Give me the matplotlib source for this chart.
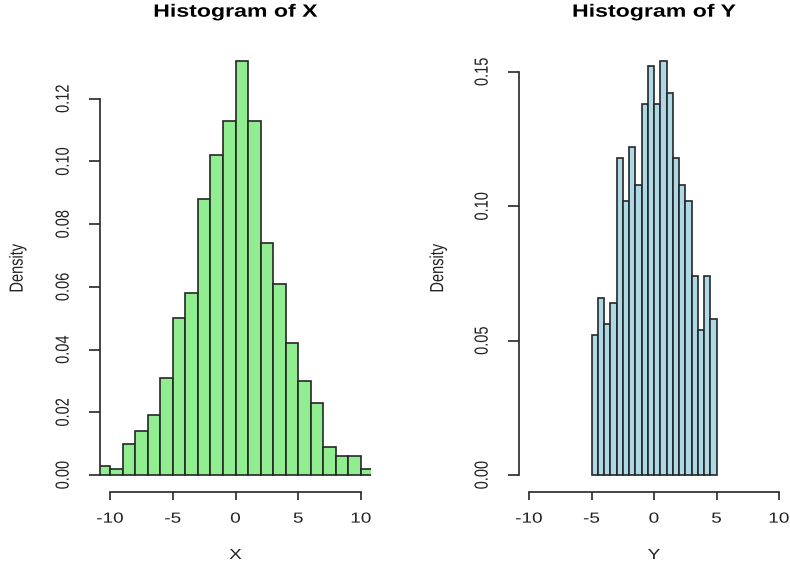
import numpy as np
import matplotlib
matplotlib.use("Agg")
import matplotlib.pyplot as plt
from matplotlib.patheffects import AbstractPathEffect
from matplotlib.transforms import Affine2D

plt.rcParams["font.family"] = ["Liberation Sans", "DejaVu Sans"]

# Histogram of X: unit-width bins from -11 to 11 (density scale)
x_edges = np.arange(-11, 12, 1.0)
x_density = [0.003, 0.002, 0.010, 0.014, 0.019, 0.031, 0.050, 0.058, 0.088, 0.102, 0.113,
             0.132, 0.113, 0.074, 0.061, 0.042, 0.030, 0.023, 0.009, 0.006, 0.006, 0.002]

# Histogram of Y: half-width bins from -5 to 5 (density scale)
y_edges = np.arange(-5, 5.01, 0.5)
y_density = [0.052, 0.066, 0.056, 0.064, 0.118, 0.102, 0.122, 0.108, 0.138, 0.152,
             0.138, 0.154, 0.142, 0.118, 0.108, 0.102, 0.074, 0.054, 0.074, 0.058]

x_ticks = [-10, -5, 0, 5, 10]
x_yticks = [0.00, 0.02, 0.04, 0.06, 0.08, 0.10, 0.12]
y_yticks = [0.00, 0.05, 0.10, 0.15]


class WideText(AbstractPathEffect):
    """Widen glyphs horizontally (in display space) about their own centre."""

    def __init__(self, sx=1.3):
        super().__init__()
        self.sx = sx

    def draw_path(self, renderer, gc, tpath, affine, rgbFace=None):
        ext = tpath.get_extents(affine)
        cx = 0.5 * (ext.x0 + ext.x1)
        t = affine + Affine2D().translate(-cx, 0).scale(self.sx, 1).translate(cx, 0)
        renderer.draw_path(gc, tpath, t, rgbFace)


wide = [WideText(1.3)]

W, H = 790, 567
fig = plt.figure(figsize=(W / 100, H / 100), dpi=100)

ax_l = fig.add_axes([100 / W, 1 - 491.5 / H, 271 / W, 447 / H])
ax_r = fig.add_axes([519 / W, 1 - 491.5 / H, 270 / W, 447 / H])

line_col = "#262626"
text_col = "#222222"
fs = 10.5


def r_hist(ax, edges, dens, color, yticks, title, xlabel):
    edges = np.asarray(edges)
    ax.bar(edges[:-1], dens, width=np.diff(edges), align="edge",
           color=color, edgecolor=line_col, linewidth=1.2)
    top = max(dens)
    ax.set_xlim(-10.8, 10.8)
    ax.set_ylim(-0.04 * top, 1.04 * top)
    for s in ("top", "right"):
        ax.spines[s].set_visible(False)
    ax.spines["left"].set_bounds(yticks[0], yticks[-1])
    ax.spines["bottom"].set_bounds(x_ticks[0], x_ticks[-1])
    for s in ("left", "bottom"):
        ax.spines[s].set_color(line_col)
        ax.spines[s].set_linewidth(1.2)
    ax.set_xticks(x_ticks)
    ax.set_xticklabels([str(t) for t in x_ticks])
    ax.set_yticks(yticks)
    ax.set_yticklabels(["{:.2f}".format(t) for t in yticks])
    ax.tick_params(axis="x", length=5.5, width=1.2, color=line_col, pad=9,
                   labelsize=fs, labelcolor=text_col)
    ax.tick_params(axis="y", length=8, width=1.2, color=line_col, pad=13.5,
                   labelsize=fs, labelcolor=text_col)
    plt.setp(ax.get_yticklabels(), rotation=90, va="center", ha="right",
             path_effects=wide)
    plt.setp(ax.get_xticklabels(), path_effects=wide)
    ax.text(0.5, 1 + (44.5 - 16.7) / 447, title, transform=ax.transAxes,
            ha="center", va="baseline", fontsize=12.8, fontweight="bold",
            color="black", path_effects=wide)
    ax.text(0.5, -(559 - 491.5) / 447, xlabel, transform=ax.transAxes,
            ha="center", va="baseline", fontsize=fs, color=text_col,
            path_effects=wide)


r_hist(ax_l, x_edges, x_density, "#90EE90", x_yticks, "Histogram of X", "X")
r_hist(ax_r, y_edges, y_density, "#ADD8E6", y_yticks, "Histogram of Y", "Y")

ax_l.text(-(100 - 17.5) / 271, 0.5, "Density", transform=ax_l.transAxes,
          rotation=90, ha="center", va="center", fontsize=fs, color=text_col,
          path_effects=wide)
ax_r.text(-(519 - 438) / 270, 0.5, "Density", transform=ax_r.transAxes,
          rotation=90, ha="center", va="center", fontsize=fs, color=text_col,
          path_effects=wide)

fig.savefig("out.png", dpi=100)
